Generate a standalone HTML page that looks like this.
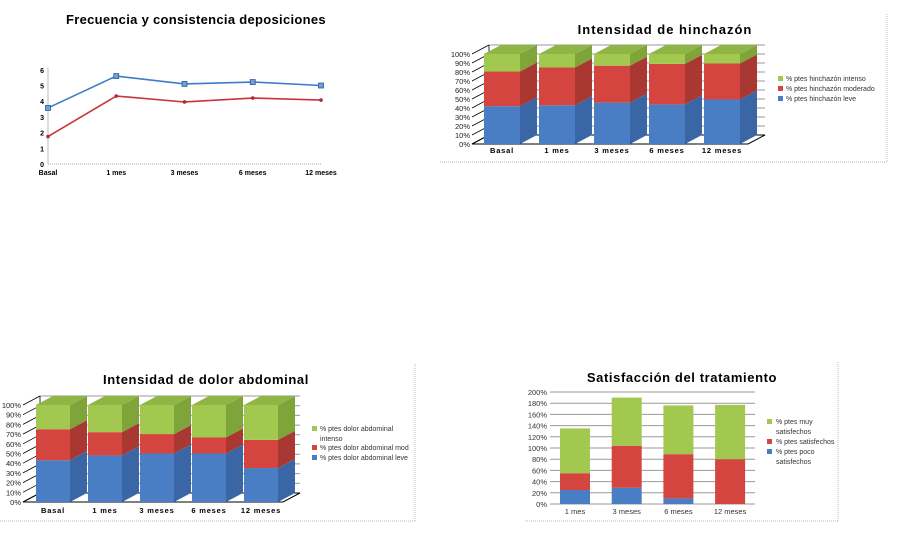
<!DOCTYPE html>
<html><head><meta charset="utf-8"><style>
body{margin:0;background:#fff;width:897px;height:531px;overflow:hidden;font-family:"Liberation Sans",sans-serif}
svg text{font-family:"Liberation Sans",sans-serif}
</style></head><body>
<svg id="s" width="897" height="531" viewBox="0 0 897 531"></svg>
<script>
// Chart 1 data
const c1Cats=["Basal","1 mes","3 meses","6 meses","12 meses"];
const c1Blue=[3.57,5.6,5.1,5.22,5.0];
const c1Red=[1.75,4.33,3.95,4.2,4.07];
const c1Ticks=[0,1,2,3,4,5,6];
// Chart 2 data
const c2Cats=["Basal","1 mes","3 meses","6 meses","12 meses"];
const c2Leve=[42,43,46,44,49.5];
const c2Mod=[38.5,42,41,45,40];
const c2Int=[19.5,15,13,11,10.5];
const c2Ticks=["0%","10%","20%","30%","40%","50%","60%","70%","80%","90%","100%"];
// Chart 3 data
const c3Cats=["Basal","1 mes","3 meses","6 meses","12 meses"];
const c3Leve=[43,48,50,50,35];
const c3Mod=[32,24,20,16.5,29];
const c3Int=[25,28,30,33.5,36];
// Chart 4 data
const c4Cats=["1 mes","3 meses","6 meses","12 meses"];
const c4Poco=[25,29,10,0];
const c4Sat=[30,75,79,80];
const c4Muy=[80,86,87,97];
const c4Ticks=[0,20,40,60,80,100,120,140,160,180,200];

const S=document.getElementById('s');const NS="http://www.w3.org/2000/svg";
function el(t,a,p){const e=document.createElementNS(NS,t);for(const k in a)e.setAttribute(k,a[k]);(p||S).appendChild(e);return e;}
function tx(x,y,s,a,p){const e=el('text',Object.assign({x:x,y:y},a),p);e.textContent=s;return e;}
const BLUE="#4a7ec4",BLUES="#3a66a6",BLUET="#5a8ed0",RED="#d4453f",REDS="#a93833",REDT="#e05550",GRN="#a2c850",GRNS="#7fa43a",GRNT="#8fb545";

// ===== Chart 1 =====
{const g=el('g',{});  
const x0=48,dx=68.25,y0=164,py=15.7;
const X=i=>x0+i*dx, Y=v=>y0-v*py;
const t=tx(196,24,"Frecuencia y consistencia deposiciones",{'text-anchor':'middle','font-size':'13','font-weight':'bold','letter-spacing':'0.3'},g);  
el('line',{x1:x0,y1:Y(6)-2,x2:x0,y2:y0,stroke:'#bbb'},g);
el('line',{x1:x0,y1:y0,x2:X(4),y2:y0,stroke:'#aaa','stroke-dasharray':'1,1'},g);
c1Ticks.forEach(v=>{const l=tx(44,Y(v)+3,String(v),{'text-anchor':'end','font-size':'7','font-weight':'bold'},g);});
c1Cats.forEach((c,i)=>{const l=tx(X(i),175,c,{'text-anchor':'middle','font-size':'7','font-weight':'bold'},g);});
const pl=(arr,col,nm)=>{const p=el('polyline',{points:arr.map((v,i)=>X(i)+','+Y(v)).join(' '),fill:'none',stroke:col,'stroke-width':'1.6'},g);};
pl(c1Blue,'#3d7cc9','series-line-blue');pl(c1Red,'#c8343a','series-line-red');
c1Blue.forEach((v,i)=>{const m=el('rect',{x:X(i)-2.5,y:Y(v)-2.5,width:5,height:5,fill:'#6fa0d8',stroke:'#2d5a9a','stroke-width':'0.8'},g);});
c1Red.forEach((v,i)=>{const m=el('circle',{cx:X(i),cy:Y(v),r:1.8,fill:'#b02a30'},g);});
}

// ===== 3D stacked charts =====
function chart3d(o){
const g=el('g',{});  
const Y=v=>o.yb-v*o.ph/100;
el('line',{x1:o.fx1,y1:o.fy2,x2:o.fx2,y2:o.fy2,stroke:'#bbb','stroke-dasharray':'1,1'},g);
el('line',{x1:o.fx2,y1:o.fy1,x2:o.fx2,y2:o.fy2,stroke:'#bbb','stroke-dasharray':'1,1'},g);
const t=tx(o.tx,o.ty,o.title,{'text-anchor':'middle','font-size':'13','font-weight':'bold','letter-spacing':o.ls},g);
const ax=o.ax,dx=o.dx,dy=o.dy,right=o.right;
el('polygon',{points:`${ax},${o.yb} ${right-dx},${o.yb} ${right},${o.yb-dy} ${ax+dx},${o.yb-dy}`,fill:'#fff',stroke:'#000','stroke-width':'1'},g);
for(let k=0;k<=10;k++){const v=k*10,y=Y(v);
 if(k>0)el('line',{x1:ax+dx,y1:y-dy,x2:right,y2:y-dy,stroke:'#999','stroke-width':'1'},g);
 el('line',{x1:ax,y1:y,x2:ax+dx,y2:y-dy,stroke:'#000','stroke-width':'0.8'},g);
 const l=tx(ax-2,y+3,c2Ticks[k],{'text-anchor':'end','font-size':'7.5',fill:'#222'},g);}
el('line',{x1:ax+dx,y1:Y(100)-dy,x2:ax+dx,y2:o.yb-dy,stroke:'#000','stroke-width':'0.8'},g);
const cols=[[BLUE,BLUES,BLUET],[RED,REDS,REDT],[GRN,GRNS,GRNT]];
const names=['segment-leve','segment-moderado','segment-intenso'];
o.cats.forEach((c,i)=>{const x=o.bx+i*o.bs,w=o.bw;let acc=0;
 o.series.forEach((ser,si)=>{const v=ser[i],y1=Y(acc),y2=Y(acc+v);
  const f=el('rect',{x:x,y:y2,width:w,height:y1-y2,fill:cols[si][0]},g);
  el('polygon',{points:`${x+w},${y1} ${x+w+dx},${y1-dy} ${x+w+dx},${y2-dy} ${x+w},${y2}`,fill:cols[si][1]},g);
  acc+=v;});
 const yt=Y(acc);
 el('polygon',{points:`${x},${yt} ${x+w},${yt} ${x+w+dx},${yt-dy} ${x+dx},${yt-dy}`,fill:cols[2][2]},g);
 const l=tx(x+w/2,o.ly,c,{'text-anchor':'middle','font-size':'7.5','font-weight':'bold','letter-spacing':'0.8'},g);
});
o.legend.forEach((L,k)=>{const m=el('rect',{x:o.lgx,y:L[1]-5,width:5,height:5,fill:[GRN,RED,BLUE][L[2]]},g);
 L[0].forEach((line,j)=>{const l=tx(o.lgx+8,L[1]+j*10,line,{'font-size':'7',fill:'#333'},g);});});
}
chart3d({name:'chart-hinchazon',title:'Intensidad de hinchazón',tx:665,ty:34,ls:'1',fx1:440,fx2:887,fy1:14,fy2:162,
 ax:472,dx:17,dy:9,right:765,yb:144,ph:90,bx:484,bs:55,bw:36,cats:c2Cats,series:[c2Leve,c2Mod,c2Int],ly:153,
 lgx:778,legend:[[["% ptes hinchazón intenso"],81,0],[["% ptes hinchazón moderado"],91,1],[["% ptes hinchazón leve"],101,2]]});
chart3d({name:'chart-dolor-abdominal',title:'Intensidad de dolor abdominal',tx:206,ty:384,ls:'0.6',fx1:0,fx2:415,fy1:364,fy2:521,
 ax:23,dx:17,dy:9,right:300,yb:502,ph:97,bx:36,bs:52,bw:34,cats:c3Cats,series:[c3Leve,c3Mod,c3Int],ly:513,
 lgx:312,legend:[[["% ptes dolor abdominal","intenso"],431,0],[["% ptes dolor abdominal mod"],450,1],[["% ptes dolor abdominal leve"],460,2]]});

// ===== Chart 4 =====
{const g=el('g',{});
const y0=504,ph=112,ax=550,right=755;const Y=v=>y0-v*ph/200;
el('line',{x1:525,y1:521,x2:838,y2:521,stroke:'#bbb','stroke-dasharray':'1,1'},g);
el('line',{x1:838,y1:362,x2:838,y2:521,stroke:'#bbb','stroke-dasharray':'1,1'},g);
const t=tx(682,382,'Satisfacción del tratamiento',{'text-anchor':'middle','font-size':'13','font-weight':'bold','letter-spacing':'0.6'},g);
c4Ticks.forEach(v=>{el('line',{x1:ax,y1:Y(v),x2:right,y2:Y(v),stroke:'#999'},g);
 const l=tx(ax-3,Y(v)+3,v+'%',{'text-anchor':'end','font-size':'7.5',fill:'#333'},g);});
const ser=[c4Poco,c4Sat,c4Muy],cols=[BLUE,RED,GRN],nm=['segment-poco','segment-satisfechos','segment-muy'];
c4Cats.forEach((c,i)=>{const x=560+i*51.7,w=30;let acc=0;
 ser.forEach((s,si)=>{const v=s[i];if(v>0){const r=el('rect',{x:x,y:Y(acc+v),width:w,height:Y(acc)-Y(acc+v),fill:cols[si]},g);}acc+=v;});
 const l=tx(x+w/2,514,c,{'text-anchor':'middle','font-size':'7.5',fill:'#333'},g);});
[[["% ptes muy","satisfechos"],424,GRN],[["% ptes satisfechos"],444,RED],[["% ptes poco","satisfechos"],454,BLUE]].forEach(L=>{
 const m=el('rect',{x:767,y:L[1]-5,width:5,height:5,fill:L[2]},g);
 L[0].forEach((s,j)=>{const l=tx(776,L[1]+j*10,s,{'font-size':'7',fill:'#333'},g);});});
}
</script>
</body></html>
